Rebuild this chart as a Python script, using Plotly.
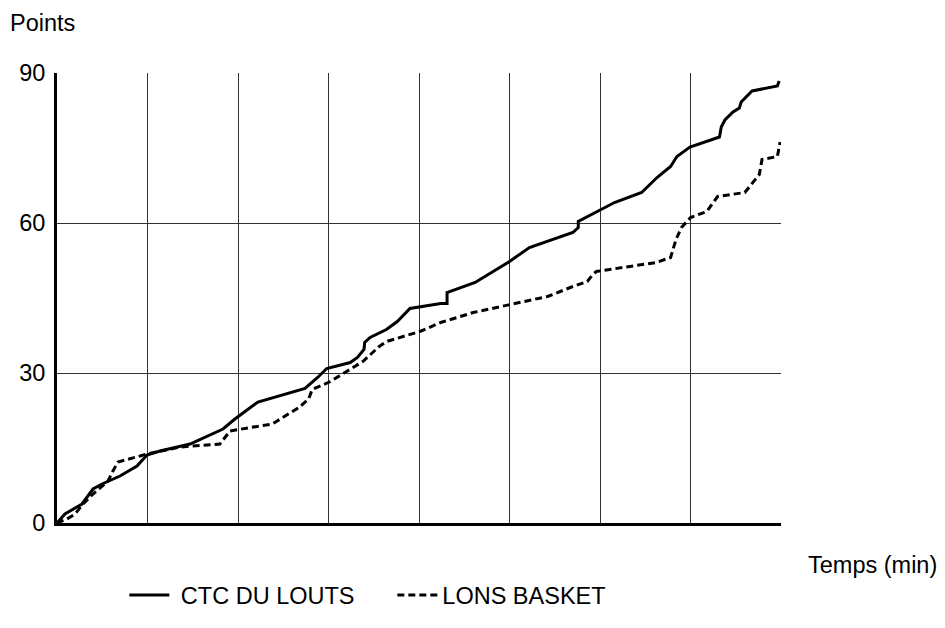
import plotly.graph_objects as go

# CTC DU LOUTS (solid)
ctc_t = [0, 0.44, 1.38, 1.99, 2.49, 3.48, 4.42, 4.97, 5.69, 7.35,
         9.17, 9.83, 11.1, 13.7, 14.4, 14.9, 16.2, 16.6, 16.96, 17.0,
         17.3, 18.2, 18.8, 19.5, 21.2, 21.55, 21.55, 23.1, 25.0, 26.1,
         28.5, 28.8, 28.8, 30.0, 30.8, 32.3, 32.9, 33.15, 33.9, 34.25,
         34.97, 36.6, 36.7, 36.9, 37.35, 37.7, 37.8, 38.4, 39.8, 39.9]
ctc_pts = [0, 1.8, 3.8, 6.8, 7.8, 9.4, 11.4, 13.6, 14.4, 15.8,
           18.8, 20.8, 24.2, 26.9, 29.1, 30.9, 32.1, 33.1, 34.7, 36.1,
           37.1, 38.7, 40.3, 42.9, 43.9, 43.9, 46.1, 48.1, 52.3, 55.1,
           58.1, 59.1, 60.3, 62.5, 64.1, 66.1, 68.3, 69.1, 71.3, 73.3,
           75.2, 77.2, 79.2, 80.6, 82.2, 83.0, 84.2, 86.4, 87.4, 88.4]

# LONS BASKET (dashed)
lons_t = [0, 0.55, 1.0, 1.44, 1.99, 2.82, 3.09, 3.37, 4.59, 4.97,
          6.8, 9.0, 9.3, 9.56, 11.2, 11.9, 13.4, 13.9, 14.1, 15.1,
          16.0, 16.9, 17.8, 18.2, 20.05, 21.2, 23.0, 25.0, 27.1, 28.5,
          29.3, 29.6, 29.8, 33.1, 33.9, 34.2, 34.5, 35.0, 35.9, 36.5,
          38.0, 38.8, 38.95, 39.8, 39.95]
lons_pts = [0, 0.8, 1.8, 3.8, 5.8, 8.4, 10.4, 12.2, 13.4, 13.8,
            15.2, 15.8, 17.2, 18.4, 19.4, 19.8, 23.2, 24.8, 26.7, 28.3,
            30.3, 32.3, 35.3, 36.3, 38.3, 40.1, 42.1, 43.7, 45.3, 47.3,
            48.3, 49.7, 50.3, 52.1, 53.1, 56.7, 59.1, 61.1, 62.3, 65.3,
            66.1, 69.7, 72.7, 73.3, 76.2]

series_names = ["CTC DU LOUTS", "LONS BASKET"]
y_ticks = [0, 30, 60, 90]
y_grid = [30, 60]
x_grid = [5, 10, 15, 20, 25, 30, 35]

FONT = "Liberation Sans, Arial, sans-serif"
GRID = "#333333"
FS = 23.5
PAD = "\u00a0"  # small gap between legend sample and label

fig = go.Figure()
fig.add_trace(go.Scatter(x=ctc_t, y=ctc_pts, mode="lines", name=PAD + series_names[0],
                         line=dict(color="black", width=3)))
fig.add_trace(go.Scatter(x=lons_t, y=lons_pts, mode="lines", name=series_names[1],
                         line=dict(color="black", width=3, dash="7px,4px")))

fig.update_layout(
    width=937, height=620,
    margin=dict(l=49, r=164, t=65, b=104),
    paper_bgcolor="white", plot_bgcolor="white",
    font=dict(family=FONT, size=FS, color="black"),
    xaxis=dict(range=[0, 40], tickvals=x_grid, showticklabels=False, ticks="",
               showgrid=True, gridcolor=GRID, gridwidth=1,
               showline=True, linecolor="black", linewidth=3, zeroline=False),
    yaxis=dict(range=[0, 90], tickvals=y_ticks, ticks="", showgrid=False,
               showline=True, linecolor="black", linewidth=3, zeroline=False,
               ticklabelstandoff=4, tickfont=dict(size=FS)),
    yaxis2=dict(range=[0, 90], overlaying="y", tickvals=y_grid, showticklabels=False,
                ticks="", showgrid=True, gridcolor=GRID, gridwidth=1,
                showline=False, zeroline=False),
    showlegend=True,
    legend=dict(orientation="h", x=0.093, xanchor="left", y=-0.158, yanchor="middle",
                font=dict(size=FS), entrywidth=213, itemwidth=40,
                bgcolor="rgba(0,0,0,0)"),
    annotations=[
        dict(text="Points", xref="paper", yref="paper", x=-0.067, y=1.111,
             xanchor="left", yanchor="middle", showarrow=False, font=dict(size=FS)),
        dict(text="Temps (min)", xref="paper", yref="paper", x=1.035, y=-0.0935,
             xanchor="left", yanchor="middle", showarrow=False, font=dict(size=FS)),
    ],
)
# invisible trace so that the secondary y axis (grid lines at 30 and 60) is drawn
fig.add_trace(go.Scatter(x=[0], y=[0], yaxis="y2", mode="markers",
                         marker=dict(opacity=0), showlegend=False, hoverinfo="skip"))

fig.write_html("out.html")
